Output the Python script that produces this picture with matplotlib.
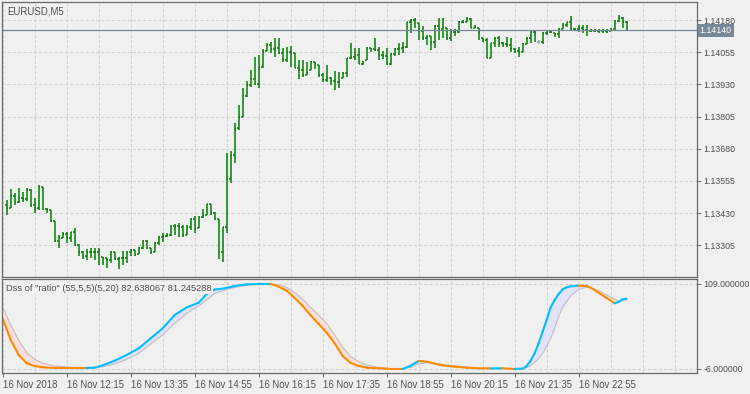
import matplotlib
matplotlib.use("Agg")
import matplotlib.pyplot as plt
import matplotlib.transforms as mtransforms
from matplotlib.collections import LineCollection
import numpy as np

# ---- price bars (EURUSD M5), bar 1 = 16 Nov 11:00 ----
bar_index = list(range(1, 157))

opens = [
    1.13460, 1.13449, 1.13498, 1.13475, 1.13490, 1.13485, 1.13520, 1.13462, 1.13449, 1.13533,
    1.13446, 1.13442, 1.13400, 1.13322, 1.13332, 1.13348, 1.13332, 1.13356, 1.13306, 1.13278,
    1.13265, 1.13281, 1.13279, 1.13280, 1.13260, 1.13257, 1.13248, 1.13280, 1.13252, 1.13256,
    1.13257, 1.13278, 1.13287, 1.13270, 1.13296, 1.13322, 1.13296, 1.13278, 1.13313, 1.13339,
    1.13341, 1.13345, 1.13380, 1.13379, 1.13378, 1.13345, 1.13378, 1.13406, 1.13371, 1.13416,
    1.13423, 1.13466, 1.13429, 1.13406, 1.13281, 1.13375, 1.13561, 1.13656, 1.13759, 1.13802,
    1.13885, 1.13928, 1.13950, 1.13932, 1.13999, 1.14061, 1.14083, 1.14066, 1.14070, 1.14051,
    1.14025, 1.14054, 1.14051, 1.13995, 1.13986, 1.13966, 1.13986, 1.14016, 1.14005, 1.13966,
    1.13947, 1.13956, 1.13943, 1.13938, 1.13953, 1.13973, 1.14031, 1.14038, 1.14044, 1.14008,
    1.14025, 1.14073, 1.14067, 1.14064, 1.14044, 1.14042, 1.14008, 1.14047, 1.14066, 1.14070,
    1.14076, 1.14171, 1.14180, 1.14167, 1.14137, 1.14109, 1.14119, 1.14093, 1.14158, 1.14145,
    1.14148, 1.14109, 1.14134, 1.14135, 1.14171, 1.14174, 1.14184, 1.14150, 1.14148, 1.14109,
    1.14102, 1.14034, 1.14089, 1.14111, 1.14089, 1.14085, 1.14083, 1.14067, 1.14058, 1.14057,
    1.14085, 1.14109, 1.14132, 1.14093, 1.14093, 1.14128, 1.14134, 1.14128, 1.14124, 1.14145,
    1.14161, 1.14171, 1.14146, 1.14145, 1.14148, 1.14141, 1.14138, 1.14136, 1.14138, 1.14136,
    1.14137, 1.14137, 1.14145, 1.14176, 1.14189, 1.14174,
]
highs = [
    1.13481, 1.13524, 1.13507, 1.13526, 1.13513, 1.13526, 1.13524, 1.13488, 1.13539, 1.13533,
    1.13449, 1.13442, 1.13400, 1.13345, 1.13358, 1.13356, 1.13356, 1.13374, 1.13309, 1.13283,
    1.13291, 1.13293, 1.13296, 1.13296, 1.13260, 1.13257, 1.13283, 1.13280, 1.13261, 1.13283,
    1.13283, 1.13291, 1.13287, 1.13300, 1.13324, 1.13326, 1.13296, 1.13319, 1.13343, 1.13352,
    1.13354, 1.13384, 1.13388, 1.13393, 1.13384, 1.13384, 1.13410, 1.13419, 1.13419, 1.13445,
    1.13466, 1.13466, 1.13436, 1.13406, 1.13378, 1.13665, 1.13673, 1.13779, 1.13850, 1.13915,
    1.13944, 1.13986, 1.14035, 1.14044, 1.14066, 1.14092, 1.14096, 1.14109, 1.14109, 1.14073,
    1.14076, 1.14080, 1.14051, 1.14025, 1.14025, 1.14016, 1.14021, 1.14018, 1.14005, 1.13973,
    1.14005, 1.13960, 1.13982, 1.13979, 1.13979, 1.14034, 1.14089, 1.14073, 1.14073, 1.14021,
    1.14076, 1.14073, 1.14109, 1.14076, 1.14060, 1.14073, 1.14051, 1.14073, 1.14089, 1.14096,
    1.14174, 1.14184, 1.14189, 1.14167, 1.14158, 1.14122, 1.14119, 1.14161, 1.14186, 1.14189,
    1.14148, 1.14145, 1.14145, 1.14176, 1.14180, 1.14193, 1.14186, 1.14161, 1.14148, 1.14109,
    1.14109, 1.14089, 1.14115, 1.14119, 1.14096, 1.14115, 1.14109, 1.14070, 1.14076, 1.14089,
    1.14115, 1.14137, 1.14137, 1.14102, 1.14135, 1.14137, 1.14141, 1.14128, 1.14148, 1.14167,
    1.14174, 1.14197, 1.14150, 1.14161, 1.14161, 1.14161, 1.14145, 1.14145, 1.14145, 1.14145,
    1.14145, 1.14150, 1.14180, 1.14199, 1.14193, 1.14176,
]
lows = [
    1.13423, 1.13449, 1.13462, 1.13468, 1.13475, 1.13477, 1.13455, 1.13429, 1.13442, 1.13442,
    1.13429, 1.13397, 1.13319, 1.13296, 1.13332, 1.13313, 1.13319, 1.13304, 1.13265, 1.13252,
    1.13248, 1.13255, 1.13248, 1.13229, 1.13229, 1.13218, 1.13235, 1.13248, 1.13212, 1.13229,
    1.13235, 1.13265, 1.13265, 1.13270, 1.13291, 1.13291, 1.13270, 1.13278, 1.13306, 1.13319,
    1.13336, 1.13341, 1.13345, 1.13336, 1.13336, 1.13345, 1.13365, 1.13354, 1.13371, 1.13410,
    1.13423, 1.13423, 1.13403, 1.13251, 1.13242, 1.13352, 1.13548, 1.13626, 1.13753, 1.13802,
    1.13882, 1.13921, 1.13928, 1.13915, 1.13992, 1.14061, 1.14053, 1.14035, 1.14047, 1.14018,
    1.14018, 1.13999, 1.13992, 1.13951, 1.13960, 1.13966, 1.13986, 1.13990, 1.13960, 1.13941,
    1.13938, 1.13928, 1.13908, 1.13917, 1.13953, 1.13960, 1.14029, 1.14025, 1.14008, 1.14005,
    1.14025, 1.14057, 1.14060, 1.14025, 1.14029, 1.14005, 1.14005, 1.14042, 1.14044, 1.14051,
    1.14070, 1.14128, 1.14148, 1.14102, 1.14102, 1.14083, 1.14064, 1.14070, 1.14102, 1.14109,
    1.14102, 1.14098, 1.14119, 1.14128, 1.14167, 1.14174, 1.14148, 1.14148, 1.14102, 1.14096,
    1.14031, 1.14031, 1.14076, 1.14076, 1.14076, 1.14076, 1.14057, 1.14051, 1.14038, 1.14057,
    1.14085, 1.14089, 1.14096, 1.14085, 1.14085, 1.14122, 1.14128, 1.14115, 1.14111, 1.14145,
    1.14154, 1.14137, 1.14137, 1.14135, 1.14128, 1.14119, 1.14132, 1.14132, 1.14128, 1.14128,
    1.14128, 1.14137, 1.14137, 1.14171, 1.14150, 1.14137,
]
closes = [
    1.13449, 1.13498, 1.13475, 1.13490, 1.13485, 1.13520, 1.13462, 1.13449, 1.13533, 1.13446,
    1.13442, 1.13400, 1.13322, 1.13332, 1.13348, 1.13332, 1.13356, 1.13306, 1.13278, 1.13265,
    1.13280, 1.13280, 1.13280, 1.13283, 1.13257, 1.13248, 1.13280, 1.13252, 1.13257, 1.13257,
    1.13278, 1.13287, 1.13268, 1.13296, 1.13322, 1.13296, 1.13278, 1.13313, 1.13339, 1.13341,
    1.13345, 1.13380, 1.13378, 1.13378, 1.13345, 1.13378, 1.13406, 1.13367, 1.13416, 1.13423,
    1.13466, 1.13429, 1.13406, 1.13281, 1.13375, 1.13561, 1.13656, 1.13759, 1.13802, 1.13885,
    1.13928, 1.13950, 1.13932, 1.13999, 1.14061, 1.14083, 1.14066, 1.14070, 1.14051, 1.14025,
    1.14054, 1.14051, 1.13995, 1.13986, 1.13966, 1.13973, 1.14016, 1.14008, 1.13966, 1.13947,
    1.13956, 1.13943, 1.13938, 1.13941, 1.13973, 1.14031, 1.14038, 1.14044, 1.14008, 1.14014,
    1.14073, 1.14067, 1.14064, 1.14044, 1.14042, 1.14008, 1.14047, 1.14066, 1.14070, 1.14076,
    1.14171, 1.14180, 1.14184, 1.14137, 1.14109, 1.14119, 1.14093, 1.14158, 1.14145, 1.14184,
    1.14109, 1.14135, 1.14135, 1.14171, 1.14174, 1.14184, 1.14150, 1.14154, 1.14135, 1.14102,
    1.14034, 1.14089, 1.14111, 1.14089, 1.14085, 1.14083, 1.14067, 1.14057, 1.14057, 1.14085,
    1.14109, 1.14132, 1.14135, 1.14093, 1.14128, 1.14135, 1.14135, 1.14124, 1.14145, 1.14161,
    1.14171, 1.14145, 1.14145, 1.14148, 1.14141, 1.14137, 1.14137, 1.14137, 1.14137, 1.14137,
    1.14135, 1.14145, 1.14176, 1.14189, 1.14174, 1.14141,
]

price_ticks = [1.13305, 1.13430, 1.13555, 1.13680, 1.13805, 1.13930, 1.14055, 1.14180]
last_price = 1.14140

time_tick_bars = [0, 16, 32, 48, 64, 80, 96, 112, 128, 144]
time_tick_labels = ["16 Nov 2018", "16 Nov 12:15", "16 Nov 13:35", "16 Nov 14:55",
                    "16 Nov 16:15", "16 Nov 17:35", "16 Nov 18:55", "16 Nov 20:15",
                    "16 Nov 21:35", "16 Nov 22:55"]

# ---- DSS indicator (read at selected bars) ----
dss_bars = [0, 2, 4, 6, 8, 10, 13, 17, 21, 23, 25, 28, 31, 34, 37, 40, 43, 46, 49, 51,
            53, 55, 58, 61, 64, 67, 69, 71, 73, 75, 77, 79, 81, 83, 85, 87, 89, 91, 94, 97,
            100, 102, 104, 106, 108, 110, 113, 116, 119, 122, 125, 128, 130, 131, 132, 133,
            134, 135, 136, 137, 138, 139, 140, 141, 142, 144, 146, 147, 149, 151, 153, 154,
            155, 156]
dss_values = [59.6, 34.1, 16.5, 6.7, 3.5, 2.0, 1.2, 1.2, 1.2, 1.6, 4.3, 9.8, 16.5, 24.3,
              36.1, 47.8, 63.5, 72.5, 78.0, 88.2, 93.5, 94.5, 97.6, 99.6, 100.0, 100.0,
              96.9, 92.2, 83.5, 74.1, 63.1, 52.9, 42.7, 30.2, 15.3, 7.1, 3.5, 1.6, 0.8, 0.0,
              0.0, 3.9, 9.4, 8.6, 6.3, 4.3, 2.7, 1.6, 0.8, 0.6, 0.8, 0.0, 0.4, 3.5, 9.8,
              18.4, 30.2, 43.9, 57.6, 72.5, 81.2, 88.2, 93.7, 96.1, 97.3, 98.0, 97.6, 95.7,
              89.8, 83.5, 77.3, 78.8, 82.0, 82.7]
signal_values = [72.6, 51.8, 33.7, 19.2, 11.4, 6.7, 3.5, 2.0, 1.2, 1.2, 2.7, 5.9, 11.4,
                 18.4, 29.4, 40.0, 53.7, 65.5, 74.1, 81.2, 89.0, 92.0, 96.1, 98.4, 100.0,
                 100.0, 99.2, 96.1, 89.8, 82.0, 72.5, 63.1, 53.7, 40.0, 25.5, 14.5, 8.6, 4.7,
                 2.0, 0.4, 0.4, 2.0, 5.9, 7.5, 6.7, 5.1, 3.5, 2.4, 1.2, 0.8, 0.4, 0.4, 0.8,
                 1.6, 3.9, 7.8, 12.5, 18.4, 26.3, 36.1, 47.8, 61.6, 72.5, 79.2, 85.9, 93.7,
                 96.1, 95.7, 92.2, 87.1, 82.0, 80.4, 80.4, 81.2]

sub_ticks = [0, 100]
sub_tick_labels = ["-6.000000", "109.000000"]

# ---- style ----
BG = "#f0f0f0"
FRAME = "#6a6a6a"
TXT = "#505050"
GRID = "#d2d2d2"
BAR = "#008000"
plt.rcParams["font.family"] = ["Liberation Sans", "DejaVu Sans"]
FS = 6.9      # titles / time axis
FS_Y = 6.3    # right price scale

W, H = 750, 394
fig = plt.figure(figsize=(W / 100, H / 100), dpi=100, facecolor=BG)


def px_axes(left, top, right, bottom):
    return fig.add_axes([left / W, 1 - bottom / H, (right - left) / W, (bottom - top) / H])


ax = px_axes(2, 2, 697, 277)
ax2 = px_axes(2, 279, 697, 373)

x_min, x_max = -0.175, 173.6
grid_bars = np.arange(0, x_max, 8)

for a in (ax, ax2):
    a.set_facecolor(BG)
    a.set_xlim(x_min, x_max)
    for sp in a.spines.values():
        sp.set_color(FRAME)
        sp.set_linewidth(0.9)
    a.yaxis.tick_right()
    a.tick_params(axis="y", direction="out", length=3, width=0.7, color=FRAME,
                  labelsize=FS_Y, labelcolor=TXT, pad=1.5)

# ---- main price chart ----
x = np.array(bar_index, dtype=float)
o, h, l, c = (np.array(v) for v in (opens, highs, lows, closes))
bar_colors = np.where(np.isclose(o, c, rtol=0, atol=1e-7), "#a8a8a8", BAR)
ax.vlines(x, l, h, colors=bar_colors, linewidth=1.1)
ax.hlines(o, x - 0.45, x, colors=bar_colors, linewidth=1.1)
ax.hlines(c, x, x + 0.45, colors=bar_colors, linewidth=1.1)

ax.set_ylim(1.131821, 1.142499)
ax.set_yticks(price_ticks)
ax.set_yticklabels([f"{p:.5f}" for p in price_ticks])
ax.set_xticks(grid_bars)
ax.tick_params(axis="x", length=0, labelbottom=False)
ax.grid(True, color=GRID, linestyle=(0, (3, 2)), linewidth=0.75)
ax.set_axisbelow(True)

ax.axhline(last_price, color="#778899", linewidth=0.9)
trans = mtransforms.blended_transform_factory(ax.transAxes, ax.transData)
ax.text(1.004, last_price, f"{last_price:.5f}", transform=trans, ha="left", va="center",
        fontsize=FS_Y, color="white",
        bbox=dict(boxstyle="square,pad=0.2", fc="#778899", ec="none"))
ax.text(0.007, 0.985, "EURUSD,M5", transform=ax.transAxes, ha="left", va="top",
        fontsize=FS, color=TXT)

# ---- DSS subwindow ----
xb = np.array(dss_bars, dtype=float)
d = np.array(dss_values)
s = np.array(signal_values)
ax2.set_ylim(-4.71, 105.88)
ax2.fill_between(xb, d, s, where=d >= s, interpolate=True, color="#e2e2fc", linewidth=0)
ax2.fill_between(xb, d, s, where=d < s, interpolate=True, color="#fde0de", linewidth=0)
ax2.plot(xb, s, color="#c4bcbc", linewidth=0.8)

seg_colors = []
col = "#ff8c00"
for i in range(len(xb) - 1):
    if d[i + 1] > d[i]:
        col = "#00bfff"
    elif d[i + 1] < d[i]:
        col = "#ff8c00"
    seg_colors.append(col)
segs = [[(xb[i], d[i]), (xb[i + 1], d[i + 1])] for i in range(len(xb) - 1)]
ax2.add_collection(LineCollection(segs, colors=seg_colors, linewidths=1.5, capstyle="round"))

ax2.set_yticks(sub_ticks)
ax2.set_yticklabels(sub_tick_labels)
ax2.set_xticks(time_tick_bars)
ax2.set_xticklabels(time_tick_labels, ha="left")
ax2.set_xticks([g for g in grid_bars if g not in time_tick_bars], minor=True)
ax2.tick_params(axis="x", which="major", direction="out", length=3, width=0.7, color=FRAME,
                labelsize=FS, labelcolor=TXT, pad=2)
ax2.tick_params(axis="x", which="minor", length=0)
ax2.grid(True, which="both", color=GRID, linestyle=(0, (3, 2)), linewidth=0.75)
ax2.set_axisbelow(True)

ax2.text(0.006, 0.9, 'Dss of "ratio" (55,5,5)(5,20) 82.638067 81.245288',
         transform=ax2.transAxes, ha="left", va="center", fontsize=6.7, color=TXT,
         bbox=dict(boxstyle="square,pad=0.1", fc=BG, ec="none"), zorder=5)

fig.savefig("out.png", dpi=100, facecolor=BG)
